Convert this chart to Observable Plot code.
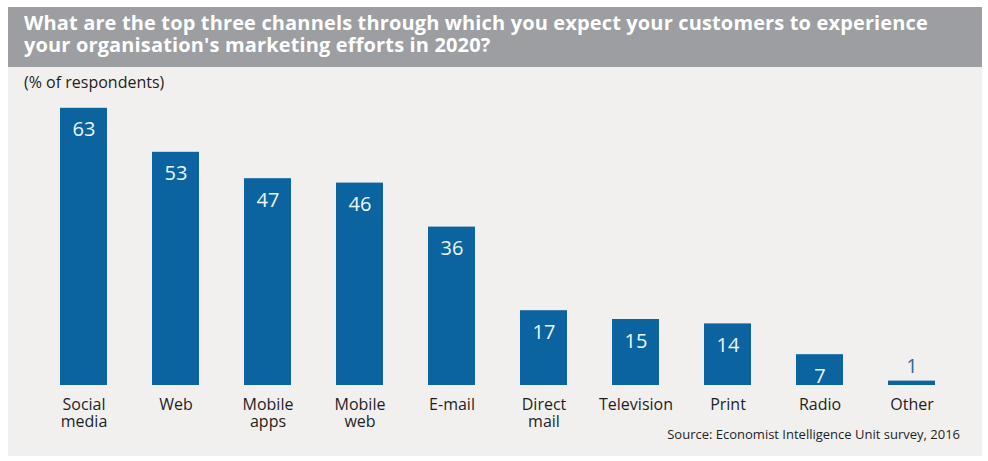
<!DOCTYPE html>
<html>
<head>
<meta charset="utf-8">
<script src="https://cdn.jsdelivr.net/npm/d3@7"></script>
<script src="https://cdn.jsdelivr.net/npm/@observablehq/plot@0.6"></script>
<style>
  body { margin: 0; background: #ffffff; }
  #wrap { position: relative; width: 988px; height: 461px; overflow: hidden; font-family: "Open Sans", "DejaVu Sans", sans-serif; }
  #panel { position: absolute; left: 8px; top: 67px; width: 974px; height: 389px; background: #f2f0ef; }
  #titlebar { position: absolute; left: 8px; top: 7px; width: 974px; height: 60px; background: #9c9ea1; }
  .tline { position: absolute; left: 24px; color: #ffffff; font-weight: 700; font-size: 20px; white-space: nowrap; line-height: 1; }
  #sub { position: absolute; left: 24px; top: 74px; font-size: 16px; color: #1e1e1e; white-space: nowrap; line-height: 1; }
  #source { position: absolute; right: 28px; top: 428px; font-size: 13px; color: #1e1e1e; white-space: nowrap; line-height: 1; }
  #chart { position: absolute; left: 0; top: 0; }
</style>
</head>
<body>
<div id="wrap">
  <div id="panel"></div>
  <div id="titlebar"></div>
  <div class="tline" id="t1" style="top:13px">What are the top three channels through which you expect your customers to experience</div>
  <div class="tline" id="t2" style="top:35px">your organisation's marketing efforts in 2020?</div>
  <div id="sub">(% of respondents)</div>
  <div id="chart"></div>
  <div id="source">Source: Economist Intelligence Unit survey, 2016</div>
</div>
<script>
const categories = ["Social media", "Web", "Mobile apps", "Mobile web", "E-mail", "Direct mail", "Television", "Print", "Radio", "Other"];
const tickLabels = ["Social\nmedia", "Web", "Mobile\napps", "Mobile\nweb", "E-mail", "Direct\nmail", "Television", "Print", "Radio", "Other"];
const values = [63, 53, 47, 46, 36, 17, 15, 14, 7, 1];

const data = categories.map((c, i) => ({ name: c, label: tickLabels[i], value: values[i] }));
const barColor = "#0b64a0";

const chart = Plot.plot({
  width: 988,
  height: 461,
  style: { background: "transparent", fontFamily: "'Open Sans', 'DejaVu Sans', sans-serif", overflow: "visible" },
  x: { domain: categories, range: [36.4, 958.6], paddingInner: 0.49, paddingOuter: 0.245, axis: null },
  y: { domain: [0, 70], range: [385, 77], axis: null },
  marks: [
    Plot.barY(data, { x: "name", y: "value", fill: barColor }),
    Plot.text(data.filter(d => d.value >= 5), {
      x: "name", y: "value", text: d => String(d.value),
      dy: 28, lineAnchor: "bottom", fill: "#eef6fc", fontSize: 20
    }),
    Plot.text(data.filter(d => d.value < 5), {
      x: "name", y: "value", text: d => String(d.value),
      dy: -8, lineAnchor: "bottom", fill: "#1f6ea6", fontSize: 20
    }),
    Plot.text(data, {
      x: "name", y: 0, text: "label",
      dy: 12, lineAnchor: "top", lineHeight: 1.07, fill: "#1e1e1e", fontSize: 16
    })
  ]
});
document.getElementById("chart").appendChild(chart);

// fit title line 1 to the reference width
(function fit() {
  const t1 = document.getElementById("t1");
  const t2 = document.getElementById("t2");
  const target = 904;
  const w = t1.getBoundingClientRect().width;
  const n = t1.textContent.length;
  const ls = (target - w) / n;
  t1.style.letterSpacing = ls + "px";
  t2.style.letterSpacing = ls + "px";
})();
</script>
</body>
</html>
